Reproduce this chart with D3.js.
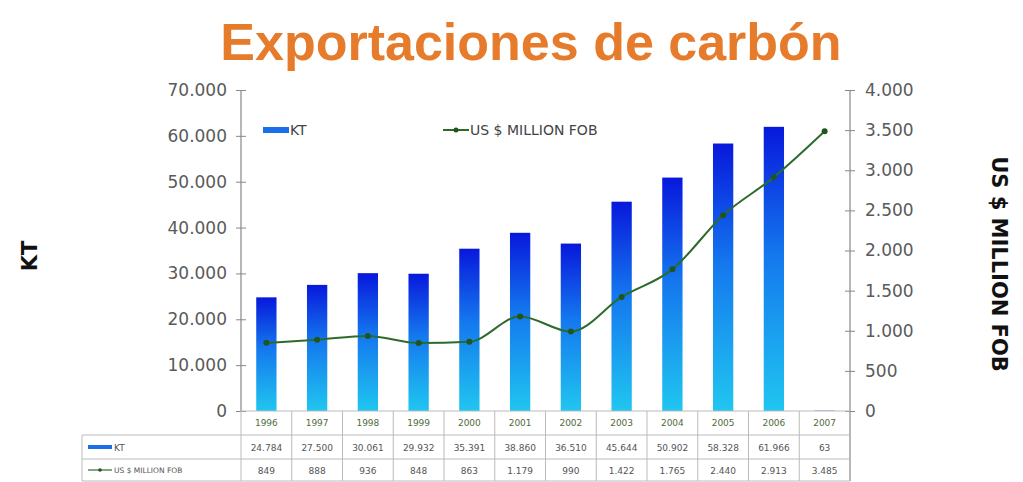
<!DOCTYPE html>
<html>
<head>
<meta charset="utf-8">
<script src="https://cdn.jsdelivr.net/npm/d3@7"></script>
<style>
    body { margin: 0; background: #fff; }
    text { font-family: "DejaVu Sans", Verdana, sans-serif; }
</style>
</head>
<body>
<div id="chart"></div>
<script>
var canvas_width = 1023,
    canvas_height = 482;

// data
var years = ["1996", "1997", "1998", "1999", "2000", "2001", "2002", "2003", "2004", "2005", "2006", "2007"];
var kt = [24784, 27500, 30061, 29932, 35391, 38860, 36510, 45644, 50902, 58328, 61966, 63];
var usd = [849, 888, 936, 848, 863, 1179, 990, 1422, 1765, 2440, 2913, 3485];
var ktTicks = [0, 10000, 20000, 30000, 40000, 50000, 60000, 70000];
var usdTicks = [0, 500, 1000, 1500, 2000, 2500, 3000, 3500, 4000];

var margin = { top: 90, right: 173, bottom: 71, left: 241 };
var width = canvas_width - margin.left - margin.right;
var height = canvas_height - margin.top - margin.bottom;

var locale = d3.formatLocale({ decimal: ",", thousands: ".", grouping: [3], currency: ["$", ""] });
var fmt = locale.format(",");

var svg = d3.select("#chart")
    .append("svg")
    .attr("width", canvas_width)
    .attr("height", canvas_height);

var defs = svg.append("defs");
var grad = defs.append("linearGradient")
    .attr("id", "barGrad")
    .attr("x1", 0).attr("y1", 0).attr("x2", 0).attr("y2", 1);
grad.append("stop").attr("offset", "0%").attr("stop-color", "#0818dc");
grad.append("stop").attr("offset", "45%").attr("stop-color", "#1478ee");
grad.append("stop").attr("offset", "100%").attr("stop-color", "#20c6f0");

var xScale = d3.scaleBand()
    .domain(years)
    .range([0, width]);

var yLeft = d3.scaleLinear()
    .domain([0, 70000])
    .range([height, 0]);

var yRight = d3.scaleLinear()
    .domain([0, 4000])
    .range([height, 0]);

var g = svg.append("g")
    .attr("transform", "translate(" + margin.left + "," + margin.top + ")");

// Title
svg.append("text")
    .attr("x", 531)
    .attr("y", 60)
    .attr("text-anchor", "middle")
    .style("font-family", "'Liberation Sans', Arial, sans-serif")
    .style("font-weight", "bold")
    .style("font-size", "52px")
    .style("fill", "#e57b2b")
    .text("Exportaciones de carbón");

// Bars
var barW = xScale.bandwidth() * 0.4;
g.selectAll(".bar")
    .data(kt)
    .enter()
    .append("rect")
    .attr("class", "bar")
    .attr("x", (d, i) => xScale(years[i]) + (xScale.bandwidth() - barW) / 2)
    .attr("y", d => yLeft(d))
    .attr("width", barW)
    .attr("height", d => height - yLeft(d))
    .attr("fill", "url(#barGrad)");

// Axes
var leftAxis = g.append("g")
    .attr("class", "y-axis")
    .call(d3.axisLeft(yLeft).tickValues(ktTicks).tickFormat(fmt).tickSize(5).tickPadding(9));

var rightAxis = g.append("g")
    .attr("class", "y-axis")
    .attr("transform", "translate(" + width + ",0)")
    .call(d3.axisRight(yRight).tickValues(usdTicks).tickFormat(fmt).tickSize(5).tickPadding(10));

[leftAxis, rightAxis].forEach(function (ax) {
    ax.select(".domain").attr("stroke", "#888").attr("stroke-width", 1.2);
    ax.selectAll(".tick line").attr("stroke", "#888").attr("x1", -5).attr("x2", 5);
    ax.selectAll(".tick text")
        .style("font-size", "17px")
        .style("fill", "#5a5a5a");
});
leftAxis.select(".domain").attr("d", "M0,0V" + height);
rightAxis.select(".domain").attr("d", "M0,0V" + (height + 70));

// Line
var line = d3.line()
    .x((d, i) => xScale(years[i]) + xScale.bandwidth() / 2)
    .y(d => yRight(d))
    .curve(d3.curveMonotoneX);

g.append("path")
    .datum(usd)
    .attr("fill", "none")
    .attr("stroke", "#2d6b2d")
    .attr("stroke-width", 2)
    .attr("d", line);

g.selectAll(".dot")
    .data(usd)
    .enter()
    .append("circle")
    .attr("cx", (d, i) => xScale(years[i]) + xScale.bandwidth() / 2)
    .attr("cy", d => yRight(d))
    .attr("r", 3)
    .attr("fill", "#1f561f");

// Legend inside plot
svg.append("rect")
    .attr("x", 263).attr("y", 127).attr("width", 26).attr("height", 6)
    .attr("fill", "#1a6ee8");
svg.append("text")
    .attr("x", 290).attr("y", 135)
    .style("font-size", "14px").style("fill", "#444")
    .text("KT");

svg.append("line")
    .attr("x1", 443).attr("x2", 469).attr("y1", 130).attr("y2", 130)
    .attr("stroke", "#2d6b2d").attr("stroke-width", 2);
svg.append("circle")
    .attr("cx", 456).attr("cy", 130).attr("r", 2.5).attr("fill", "#1f561f");
svg.append("text")
    .attr("x", 470).attr("y", 135)
    .style("font-size", "14px").style("fill", "#444")
    .text("US $ MILLION FOB");

// Axis titles
svg.append("text")
    .attr("transform", "translate(37, 256) rotate(-90)")
    .attr("text-anchor", "middle")
    .style("font-weight", "bold")
    .style("font-size", "21px")
    .style("fill", "#111")
    .text("KT");

svg.append("text")
    .attr("transform", "translate(992, 264) rotate(90)")
    .attr("text-anchor", "middle")
    .style("font-weight", "bold")
    .style("font-size", "21px")
    .style("fill", "#111")
    .text("US $ MILLION FOB");

// Data table under the chart
var tableLeft = 82 - margin.left;
var rowY = [height, height + 24, height + 48, height + 70];
var tbl = g.append("g").attr("class", "data-table");

// horizontal lines
tbl.append("line")
    .attr("x1", 0).attr("x2", width).attr("y1", rowY[0]).attr("y2", rowY[0])
    .attr("stroke", "#bbb");
[1, 2, 3].forEach(function (r) {
    tbl.append("line")
        .attr("x1", tableLeft).attr("x2", width).attr("y1", rowY[r]).attr("y2", rowY[r])
        .attr("stroke", "#bbb");
});

// vertical lines
tbl.append("line")
    .attr("x1", tableLeft).attr("x2", tableLeft).attr("y1", rowY[1]).attr("y2", rowY[3])
    .attr("stroke", "#bbb");
years.forEach(function (y) {
    tbl.append("line")
        .attr("x1", xScale(y)).attr("x2", xScale(y)).attr("y1", rowY[0]).attr("y2", rowY[3])
        .attr("stroke", "#bbb");
});

// cell texts
var rows = [
    { values: years, y: rowY[0] + 15, color: "#4f6b3a" },
    { values: kt.map(fmt), y: rowY[1] + 16, color: "#555" },
    { values: usd.map(fmt), y: rowY[2] + 15, color: "#555" }
];
rows.forEach(function (row) {
    tbl.selectAll(null)
        .data(row.values)
        .enter()
        .append("text")
        .attr("x", (d, i) => xScale(years[i]) + xScale.bandwidth() / 2)
        .attr("y", row.y)
        .attr("text-anchor", "middle")
        .style("font-size", "9px")
        .style("fill", row.color)
        .text(d => d);
});

// table row keys
tbl.append("rect")
    .attr("x", tableLeft + 6).attr("y", rowY[1] + 10).attr("width", 24).attr("height", 4)
    .attr("fill", "#1a6ee8");
tbl.append("text")
    .attr("x", tableLeft + 32).attr("y", rowY[1] + 16)
    .style("font-size", "9px").style("fill", "#555")
    .text("KT");
tbl.append("line")
    .attr("x1", tableLeft + 6).attr("x2", tableLeft + 30)
    .attr("y1", rowY[2] + 11).attr("y2", rowY[2] + 11)
    .attr("stroke", "#2d6b2d").attr("stroke-width", 1.2);
tbl.append("circle")
    .attr("cx", tableLeft + 18).attr("cy", rowY[2] + 11).attr("r", 1.8).attr("fill", "#1f561f");
tbl.append("text")
    .attr("x", tableLeft + 32).attr("y", rowY[2] + 14)
    .style("font-size", "7.5px").style("fill", "#555")
    .text("US $ MILLION FOB");
</script>
</body>
</html>
